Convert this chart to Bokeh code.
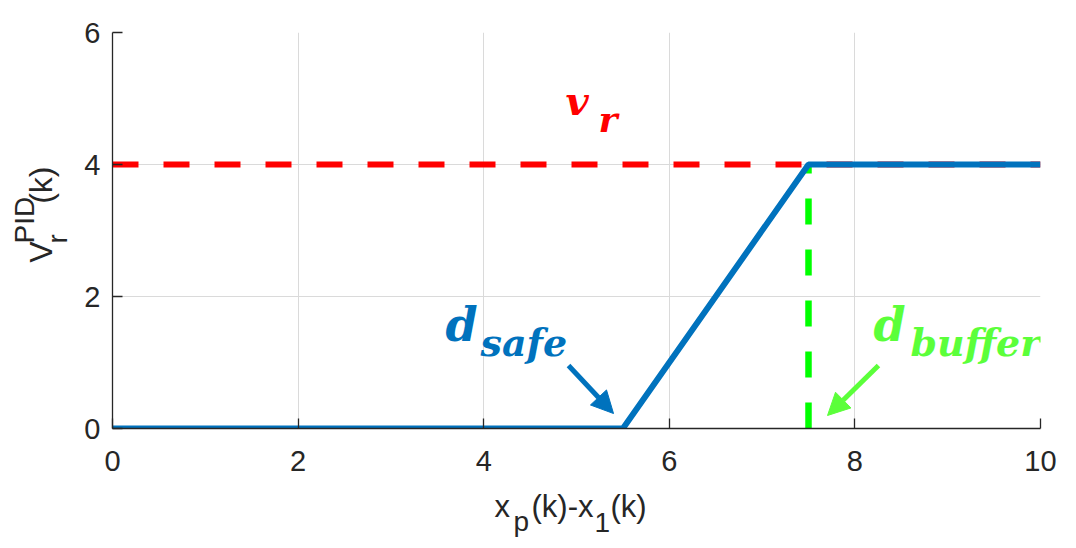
import math
from bokeh.plotting import figure
from bokeh.models import Range1d, FixedTicker, Label, Arrow, NormalHead
from bokeh.layouts import row, column
from bokeh.embed import file_html
from bokeh.resources import INLINE

# ---- data ----
gap = [0, 5.5, 7.5, 10]          # x_p(k)-x_1(k)
vpid = [0, 0, 4, 4]              # V_r^PID(k)
vr_x = [0, 10]
vr_y = [4, 4]
d_buffer_x = [7.5, 7.5]
d_buffer_y = [0, 4]
x_ticks = [0, 2, 4, 6, 8, 10]
y_ticks = [0, 2, 4, 6]

BLUE = "#0072BD"
RED = "#FF0000"
GREEN = "#00FF00"
LGREEN = "#5BFF3A"
AX = "#262626"

YL_W = 78      # width of the y-label strip
MAIN_H = 490   # height of main figure
XL_H = 52      # height of x-label strip
TOTAL_W = 1060

p = figure(width=TOTAL_W - YL_W, height=MAIN_H, output_backend="svg", toolbar_location=None,
           x_range=Range1d(0, 10), y_range=Range1d(0, 6),
           min_border_left=112 - YL_W, min_border_right=20, min_border_top=32,
           min_border_bottom=MAIN_H - 428)
p.outline_line_color = None
p.background_fill_color = "white"
p.border_fill_color = "white"

for ax, ticks in ((p.xaxis, x_ticks), (p.yaxis, y_ticks)):
    ax.ticker = FixedTicker(ticks=ticks)
    ax.major_tick_in = 10
    ax.major_tick_out = 0
    ax.minor_tick_line_color = None
    ax.axis_line_color = AX
    ax.axis_line_width = 1.3
    ax.major_tick_line_color = AX
    ax.major_tick_line_width = 1.3
    ax.major_label_text_font = "Liberation Sans"
    ax.major_label_text_font_size = "29px"
    ax.major_label_text_color = AX
p.xaxis.major_label_standoff = 22
p.yaxis.major_label_standoff = 12

p.xgrid.ticker = FixedTicker(ticks=x_ticks)
p.ygrid.ticker = FixedTicker(ticks=y_ticks)
p.grid.grid_line_color = "#dadada"
p.grid.grid_line_width = 1

p.line(vr_x, vr_y, line_color=RED, line_width=6, line_dash="26 25")
p.line(d_buffer_x, d_buffer_y, line_color=GREEN, line_width=6.5, line_dash="26 25")
p.line(gap, vpid, line_color=BLUE, line_width=6)

# arrows
p.add_layout(Arrow(x_start=4.914, y_start=0.955, x_end=5.399, y_end=0.227,
                   line_color=BLUE, line_width=5,
                   end=NormalHead(size=22, fill_color=BLUE, line_color=BLUE, line_width=1)))
p.add_layout(Arrow(x_start=8.254, y_start=0.955, x_end=7.705, y_end=0.197,
                   line_color=LGREEN, line_width=5,
                   end=NormalHead(size=22, fill_color=LGREEN, line_color=LGREEN, line_width=1)))

def lab(fig, x, y, t, size, color, font="DejaVu Serif", style="bold italic", angle=0.0):
    fig.add_layout(Label(x=x, y=y, text=t, text_font=font, text_font_style=style,
                         text_font_size=f"{size}px", text_color=color,
                         text_align="left", text_baseline="alphabetic", angle=angle))

# math annotations
lab(p, 4.881, 4.970, "v", 40, RED)
lab(p, 5.237, 4.682, "r", 36, RED)
lab(p, 3.588, 1.575, "d", 46, BLUE)
lab(p, 3.966, 1.303, "safe", 38, BLUE)
lab(p, 8.200, 1.575, "d", 46, LGREEN)
lab(p, 8.599, 1.303, "buffer", 38, LGREEN)

def strip(w, h, xr, yr):
    f = figure(width=w, height=h, output_backend="svg", toolbar_location=None,
               x_range=xr, y_range=yr, x_axis_type=None, y_axis_type=None,
               min_border=0)
    f.outline_line_color = None
    f.grid.visible = False
    f.background_fill_color = "white"
    f.border_fill_color = "white"
    return f

# y axis label V_r^PID(k)  (strip coordinates = page pixels)
yl = strip(YL_W, MAIN_H, Range1d(0, YL_W), Range1d(MAIN_H, 0))
R = math.pi / 2
sans = dict(font="Liberation Sans", style="normal")
lab(yl, 40, 285, "V", 32, AX, angle=R, **sans)
lab(yl, 57, 261, "r", 28, AX, angle=R, **sans)
lab(yl, 24, 261, "PID", 28, AX, angle=R, **sans)
lab(yl, 40, 212, "(k)", 32, AX, angle=R, **sans)

# x axis label x_p(k)-x_1(k)
xl = strip(TOTAL_W, XL_H, Range1d(0, TOTAL_W), Range1d(MAIN_H + XL_H, MAIN_H))
lab(xl, 494, 506, "x", 31, AX, **sans)
lab(xl, 513, 521, "p", 28, AX, **sans)
lab(xl, 531, 506, "(k)-x", 31, AX, **sans)
lab(xl, 594, 522, "1", 28, AX, **sans)
lab(xl, 610, 506, "(k)", 31, AX, **sans)

layout = column(row(yl, p), xl)
open("out.html", "w").write(file_html(layout, INLINE))
